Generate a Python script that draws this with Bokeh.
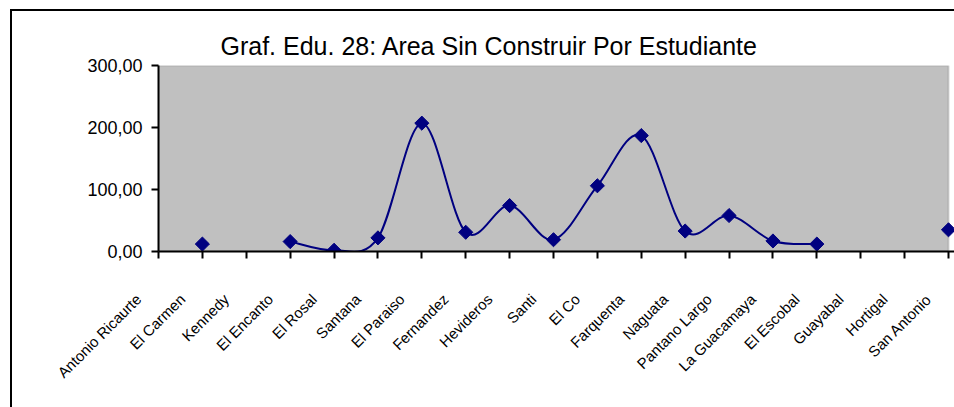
from math import pi
from bokeh.plotting import figure
from bokeh.layouts import column
from bokeh.models import Range1d, FixedTicker, BoxAnnotation, CustomJSTickFormatter
from bokeh.embed import file_html
from bokeh.resources import INLINE

# ---------------- data ----------------
categories = ["Antonio Ricaurte", "El Carmen", "Kennedy", "El Encanto", "El Rosal",
              "Santana", "El Paraiso", "Fernandez", "Hevideros", "Santi", "El Co",
              "Farquenta", "Naguata", "Pantano Largo", "La Guacamaya", "El Escobal",
              "Guayabal", "Hortigal", "San Antonio"]
area_por_estudiante = [None, 12, None, 16, 2, 22, 207, 31, 74, 19, 106, 187, 33, 58,
                       17, 12, None, None, 35]
y_ticks = [0, 100, 200, 300]
y_tick_labels = ["0,00", "100,00", "200,00", "300,00"]
title_text = "Graf. Edu. 28:  Area Sin Construir  Por  Estudiante"

FONT = "Liberation Sans"
NAVY = "#000080"

n = len(categories)
x_idx = list(range(n))
x_last = n - 1
y_top = y_ticks[-1]

W = 954
H1, H2 = 271, 136
left_b, top_b, bottom_b = 158, 65, 20
px_per_unit = (948 - left_b) / x_last
x_end = (W - left_b) / px_per_unit

# ---------------- main plot ----------------
p = figure(width=W, height=H1, output_backend="svg", toolbar_location=None,
           x_range=Range1d(0, x_end), y_range=Range1d(0, y_top),
           min_border_left=left_b, min_border_right=0,
           min_border_top=top_b, min_border_bottom=bottom_b,
           background_fill_color="white", border_fill_color=None,
           outline_line_color=None)
p.frame_align = False
p.xgrid.visible = False
p.ygrid.visible = False

p.title.text = title_text
p.title.align = "left"
p.title.offset = 62
p.title.text_font = FONT
p.title.text_font_size = "25px"
p.title.text_font_style = "normal"
p.title.text_color = "black"
p.title.standoff = 12

# gray plot area limited to the category span
p.add_layout(BoxAnnotation(left=0, right=x_last, bottom=0, top=y_top,
                           fill_color="#C0C0C0", fill_alpha=1.0,
                           line_color="#808080", line_width=2, level="underlay"))

ya = p.yaxis[0]
ya.ticker = FixedTicker(ticks=y_ticks)
ya.major_label_overrides = {t: s for t, s in zip(y_ticks, y_tick_labels)}
ya.axis_line_color = "black"
ya.axis_line_width = 2
ya.major_tick_line_color = "black"
ya.major_tick_line_width = 2
ya.major_tick_out = 7
ya.major_tick_in = 0
ya.minor_tick_line_color = None
ya.major_label_text_font = FONT
ya.major_label_text_font_size = "18px"
ya.major_label_text_color = "black"
ya.major_label_standoff = 9

xa = p.xaxis[0]
xa.ticker = FixedTicker(ticks=x_idx)
xa.bounds = (0, x_end)
xa.formatter = CustomJSTickFormatter(code="return ''")
xa.axis_line_color = "black"
xa.axis_line_width = 2
xa.major_tick_line_color = "black"
xa.major_tick_line_width = 2
xa.major_tick_out = 7
xa.major_tick_in = 0
xa.minor_tick_line_color = None
xa.major_label_standoff = 0

# smoothed line (Bezier through the data points)
runs, cur = [], []
for i, v in enumerate(area_por_estudiante):
    if v is None:
        if cur:
            runs.append(cur)
        cur = []
    else:
        cur.append((i, v))
if cur:
    runs.append(cur)

bx0, by0, bx1, by1, cxa, cya, cxb, cyb = [], [], [], [], [], [], [], []
for run in runs:
    m = len(run)
    for k in range(m - 1):
        p0 = run[k - 1] if k > 0 else run[k]
        p1 = run[k]
        p2 = run[k + 1]
        p3 = run[k + 2] if k + 2 < m else run[k + 1]
        bx0.append(p1[0]); by0.append(p1[1])
        bx1.append(p2[0]); by1.append(p2[1])
        cxa.append(p1[0] + (p2[0] - p0[0]) / 6); cya.append(p1[1] + (p2[1] - p0[1]) / 6)
        cxb.append(p2[0] - (p3[0] - p1[0]) / 6); cyb.append(p2[1] - (p3[1] - p1[1]) / 6)

p.bezier(x0=bx0, y0=by0, x1=bx1, y1=by1, cx0=cxa, cy0=cya, cx1=cxb, cy1=cyb,
         line_color=NAVY, line_width=2)

px = [i for i, v in zip(x_idx, area_por_estudiante) if v is not None]
py = [v for v in area_por_estudiante if v is not None]
p.scatter(px, py, marker="square", angle=pi / 4, size=10,
          fill_color=NAVY, line_color=NAVY)

# ---------------- category label strip ----------------
shift = 20 / px_per_unit
s0 = -left_b / px_per_unit + shift
q = figure(width=W, height=H2, output_backend="svg", toolbar_location=None,
           x_range=Range1d(s0, s0 + W / px_per_unit), y_range=Range1d(0, 1),
           y_axis_location=None,
           min_border_left=0, min_border_right=0, min_border_top=0,
           min_border_bottom=H2 - 1,
           background_fill_color=None, border_fill_color=None,
           outline_line_color=None)
q.frame_align = False
q.xgrid.visible = False
q.ygrid.visible = False

la = q.xaxis[0]
la.ticker = FixedTicker(ticks=x_idx)
la.major_label_overrides = {i: c for i, c in zip(x_idx, categories)}
la.axis_line_color = None
la.major_tick_line_color = None
la.minor_tick_line_color = None
la.major_label_orientation = pi / 4
la.major_label_text_font = FONT
la.major_label_text_font_size = "15px"
la.major_label_text_color = "black"
la.major_label_standoff = 18

root = column(p, q, spacing=0,
              styles={"box-shadow": "inset 10px 9px 0 0 white, inset 12px 11px 0 0 black"})

open("out.html", "w").write(file_html(root, INLINE))
